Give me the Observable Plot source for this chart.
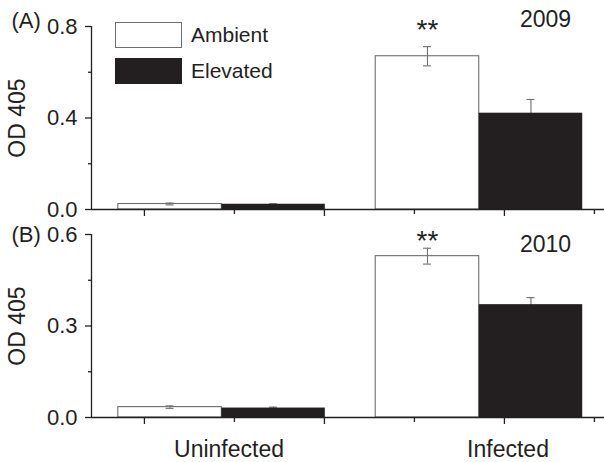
<!DOCTYPE html>
<html>
<head>
<meta charset="utf-8">
<script src="https://cdn.jsdelivr.net/npm/d3@7"></script>
<script src="https://cdn.jsdelivr.net/npm/@observablehq/plot@0.6"></script>
<style>
  body { margin: 0; background: #fff; }
  #chart { position: relative; width: 604px; height: 462px; font-family: "Liberation Sans", Arial, sans-serif; color: #231f20; }
  #chart svg { display: block; overflow: visible; }
  .legend { position: absolute; left: 115px; top: 22px; }
  .legend .row { display: flex; align-items: center; height: 26px; margin-bottom: 10px; }
  .legend .sw { width: 67px; height: 26px; box-sizing: border-box; border: 1px solid #6d6e71; }
  .legend .lab { margin-left: 9px; font-size: 21px; }
</style>
</head>
<body>
<div id="chart"></div>
<script>
// Groups, treatments and per-year means (OD 405) with standard errors
const groups = ["Uninfected", "Infected"];
const treatments = ["Ambient", "Elevated"];
const years = ["2009", "2010"];
const panelTags = ["(A)", "(B)"];
const significance = ["", "**"];

const ambient2009 = [0.024, 0.670];
const ambientErr2009 = [0.004, 0.042];
const elevated2009 = [0.023, 0.421];
const elevatedErr2009 = [0.002, 0.060];

const ambient2010 = [0.034, 0.529];
const ambientErr2010 = [0.004, 0.026];
const elevated2010 = [0.031, 0.370];
const elevatedErr2010 = [0.003, 0.023];

const yTicks2009 = [0, 0.4, 0.8];
const yMinor2009 = [0.2, 0.6];
const yTicks2010 = [0, 0.3, 0.6];
const yMinor2010 = [0.15, 0.45];

// Layout of the categorical x axis on a linear scale
const xDomain = [0.706, 3.556];
const groupCenter = [1.43, 2.86];
const labelX = [1.47, 3.02];
const barW = 0.575;
const capW = 0.022;
const xMajor = [1, 2, 3];
const xMinor = [1.5, 2.5, 3.5];

const ink = "#231f20";
const edge = "#6d6e71";
const fillOf = {Ambient: "#ffffff", Elevated: ink};

function rowsFor(amb, ambErr, elev, elevErr) {
  return groups.flatMap((g, i) => [
    {group: g, treatment: "Ambient", value: amb[i], err: ambErr[i], x1: groupCenter[i] - barW, x2: groupCenter[i]},
    {group: g, treatment: "Elevated", value: elev[i], err: elevErr[i], x1: groupCenter[i], x2: groupCenter[i] + barW}
  ]).map(d => ({...d, mid: (d.x1 + d.x2) / 2}));
}

function panel({rows, yTop, yTicks, yMinor, year, tag, height, marginTop, marginBottom, tagDy, yearDy, starDy, showLabels}) {
  const amb = rows.filter(d => d.treatment === "Ambient");
  const elev = rows.filter(d => d.treatment === "Elevated");
  const stars = amb.map((d, i) => ({...d, star: significance[i]})).filter(d => d.star);
  const txt = {fill: ink, lineAnchor: "middle", textAnchor: "middle"};
  return Plot.plot({
    width: 604,
    height,
    marginLeft: 91,
    marginRight: 0,
    marginTop,
    marginBottom,
    style: {fontFamily: "Liberation Sans, Arial, sans-serif", fontSize: "22px", color: ink, background: "white", overflow: "visible"},
    x: {type: "linear", domain: xDomain},
    y: {domain: [0, yTop]},
    marks: [
      Plot.rect(amb, {x1: "x1", x2: "x2", y1: 0, y2: "value", fill: fillOf.Ambient, stroke: edge, strokeWidth: 1.1}),
      Plot.ruleX(rows, {x: "mid", y1: d => d.value - d.err, y2: d => d.value + d.err, stroke: edge, strokeWidth: 1.1}),
      Plot.ruleY(rows, {y: d => d.value + d.err, x1: d => d.mid - capW, x2: d => d.mid + capW, stroke: edge, strokeWidth: 1.1}),
      Plot.ruleY(rows, {y: d => d.value - d.err, x1: d => d.mid - capW, x2: d => d.mid + capW, stroke: edge, strokeWidth: 1.1}),
      Plot.rect(elev, {x1: "x1", x2: "x2", y1: 0, y2: "value", fill: fillOf.Elevated}),
      Plot.ruleY([0], {stroke: ink, strokeWidth: 1.3}),
      Plot.ruleX([xDomain[0]], {y1: 0, y2: yTop, stroke: ink, strokeWidth: 1.3}),
      Plot.axisY({ticks: yTicks, tickSize: 6, tickPadding: 8, tickFormat: ".1f", label: null, strokeWidth: 1.3, fontSize: 22}),
      Plot.axisY({ticks: yMinor, tickSize: 3, tickFormat: () => "", label: null, strokeWidth: 1.3}),
      Plot.axisX({ticks: xMajor, tickSize: 7, tickFormat: () => "", label: null, strokeWidth: 1.3}),
      Plot.axisX({ticks: xMinor, tickSize: 5, tickFormat: () => "", label: null, strokeWidth: 1.3}),
      Plot.text(["OD 405"], {...txt, frameAnchor: "left", rotate: -90, dx: -73.5, fontSize: 23}),
      Plot.text([tag], {...txt, frameAnchor: "top-left", textAnchor: "start", dx: -80, dy: tagDy, fontSize: 22}),
      Plot.text([year], {...txt, frameAnchor: "top-right", dx: -59, dy: yearDy, fontSize: 23}),
      Plot.text(stars, {...txt, x: "mid", text: "star", frameAnchor: "top", dy: starDy, fontSize: 28}),
      showLabels ? Plot.text(groups, {...txt, x: (d, i) => labelX[i], frameAnchor: "bottom", dy: 32, fontSize: 23}) : null
    ]
  });
}

const chart = document.getElementById("chart");

chart.append(panel({
  rows: rowsFor(ambient2009, ambientErr2009, elevated2009, elevatedErr2009),
  yTop: 0.8, yTicks: yTicks2009, yMinor: yMinor2009,
  year: years[0], tag: panelTags[0],
  height: 224, marginTop: 26, marginBottom: 15,
  tagDy: -6, yearDy: -7, starDy: 4, showLabels: false
}));

chart.append(panel({
  rows: rowsFor(ambient2010, ambientErr2010, elevated2010, elevatedErr2010),
  yTop: 0.6, yTicks: yTicks2010, yMinor: yMinor2010,
  year: years[1], tag: panelTags[1],
  height: 238, marginTop: 10, marginBottom: 45,
  tagDy: 0, yearDy: 10, starDy: 7, showLabels: true
}));

// Treatment legend inside the upper panel
const legend = d3.select(chart).append("div").attr("class", "legend");
const row = legend.selectAll(".row").data(treatments).join("div").attr("class", "row");
row.append("div").attr("class", "sw").style("background", d => fillOf[d]).style("border-color", d => d === "Elevated" ? ink : edge);
row.append("div").attr("class", "lab").text(d => d);
</script>
</body>
</html>
